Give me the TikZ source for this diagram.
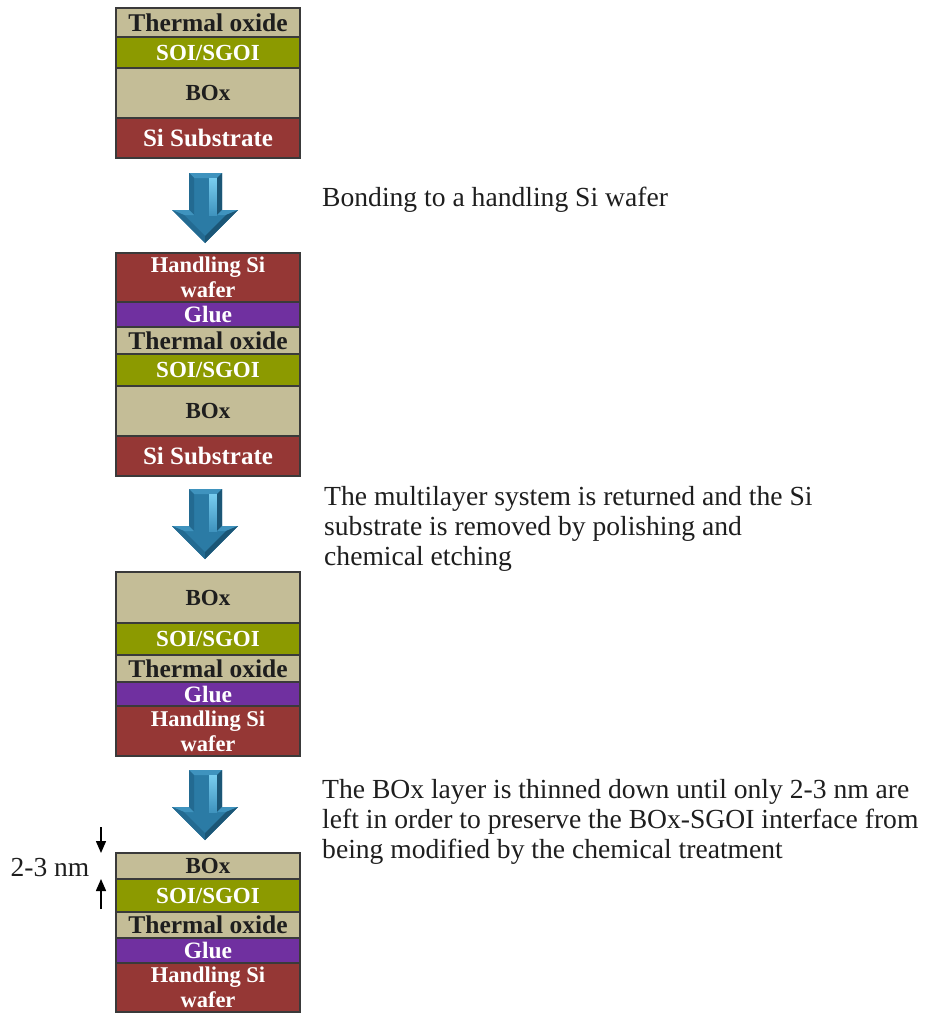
\documentclass[tikz,border=0pt]{standalone}
\usepackage{fontspec}
\setmainfont{Liberation Serif}
\usetikzlibrary{arrows.meta}

\definecolor{tanlayer}{HTML}{C4BD97}
\definecolor{olivelayer}{HTML}{8C9A00}
\definecolor{redlayer}{HTML}{953735}
\definecolor{purplelayer}{HTML}{7030A0}
\definecolor{edgegray}{HTML}{3A3A3A}
\definecolor{inkdark}{HTML}{1E1E1E}
\definecolor{arrowmain}{HTML}{2B7BA5}
\definecolor{arrowdark}{HTML}{1B5676}
\definecolor{arrowmid}{HTML}{236A91}
\definecolor{arrowlight}{HTML}{3F93BE}
\definecolor{arrowhigh}{HTML}{78CDEF}

\newcommand\fTO{\fontsize{25.5}{26}\selectfont}
\newcommand\fSOI{\fontsize{23}{24}\selectfont}
\newcommand\fBOX{\fontsize{23}{24}\selectfont}
\newcommand\fSUB{\fontsize{25}{26}\selectfont}
\newcommand\fHS{\fontsize{22.5}{25}\selectfont}
\newcommand\fGL{\fontsize{23.5}{24}\selectfont}

\tikzset{
  layerbox/.style={draw=edgegray, line width=1.5pt},
  tanfill/.style={layerbox, fill=tanlayer},
  olivefill/.style={layerbox, fill=olivelayer},
  redfill/.style={layerbox, fill=redlayer},
  purplefill/.style={layerbox, fill=purplelayer},
  darklabel/.style={inner sep=0pt, align=center, text=inkdark, font=\bfseries#1},
  lightlabel/.style={inner sep=0pt, align=center, text=white, font=\bfseries#1},
  steptext/.style={anchor=base west, inner sep=0pt, text=inkdark,
    font=\fontsize{27.6}{30}\selectfont},
  dimarrow/.style={line width=1.5pt, -{Triangle[length=12pt, width=10pt]}},
}

% one layer of a stack: name, top y, bottom y, box style, label style, label
\newcommand\stacklayer[6]{%
  \path[#4] (116,#2) rectangle (300,#3);
  \node[#5] (#1) at (208,{(#2+#3)/2}) {#6};}

% bevelled process arrow whose top edge is at y = #2
\newcommand\processarrow[2]{%
  \coordinate (#1) at (205,#2);
  \fill[arrowmain] (189,#2) -- (222,#2) -- (222,#2+37) -- (238,#2+37)
      -- (205,#2+70) -- (172,#2+37) -- (189,#2+37) -- cycle;
  \fill[arrowlight] (189,#2) -- (222,#2) -- (217,#2+5) -- (194,#2+5) -- cycle;
  \fill[arrowmid] (189,#2) -- (194,#2+5) -- (194,#2+42) -- (189,#2+37) -- cycle;
  \shade[top color=arrowhigh, bottom color=arrowlight]
      (209,#2+5) rectangle (217,#2+42);
  \fill[arrowdark] (217,#2+5) -- (222,#2) -- (222,#2+37) -- (217,#2+42) -- cycle;
  \fill[arrowlight] (172,#2+37) -- (189,#2+37) -- (194,#2+42) -- (184,#2+42) -- cycle;
  \fill[arrowlight] (222,#2+37) -- (238,#2+37) -- (226,#2+42) -- (217,#2+42) -- cycle;
  \fill[arrowmid] (172,#2+37) -- (184,#2+42) -- (205,#2+63) -- (205,#2+70) -- cycle;
  \fill[arrowdark] (238,#2+37) -- (226,#2+42) -- (205,#2+63) -- (205,#2+70) -- cycle;}

\begin{document}
\begin{tikzpicture}[x=1pt, y=-1pt]
  \useasboundingbox (0,0) rectangle (925,1014);

  % initial SOI/SGOI wafer
  \stacklayer{aTO}{8}{37}{tanfill}{darklabel=\fTO}{Thermal oxide}
  \stacklayer{aSOI}{37}{68}{olivefill}{lightlabel=\fSOI}{SOI/SGOI}
  \stacklayer{aBOX}{68}{118}{tanfill}{darklabel=\fBOX}{BOx}
  \stacklayer{aSUB}{118}{158}{redfill}{lightlabel=\fSUB}{Si Substrate}

  \processarrow{arrowA}{173}
  \node[steptext] (stepA) at (322,206) {Bonding to a handling Si wafer};

  % bonded stack
  \stacklayer{bHS}{253}{302}{redfill}{lightlabel=\fHS}{Handling Si\\wafer}
  \stacklayer{bGL}{302}{327}{purplefill}{lightlabel=\fGL}{Glue}
  \stacklayer{bTO}{327}{354}{tanfill}{darklabel=\fTO}{Thermal oxide}
  \stacklayer{bSOI}{354}{386}{olivefill}{lightlabel=\fSOI}{SOI/SGOI}
  \stacklayer{bBOX}{386}{436}{tanfill}{darklabel=\fBOX}{BOx}
  \stacklayer{bSUB}{436}{476}{redfill}{lightlabel=\fSUB}{Si Substrate}

  \processarrow{arrowB}{489}
  \node[steptext] (stepB1) at (324,505) {The multilayer system is returned and the Si};
  \node[steptext] (stepB2) at (324,535) {substrate is removed by polishing and};
  \node[steptext] (stepB3) at (324,565) {chemical etching};

  % flipped stack, substrate removed
  \stacklayer{cBOX}{572}{623}{tanfill}{darklabel=\fBOX}{BOx}
  \stacklayer{cSOI}{623}{655}{olivefill}{lightlabel=\fSOI}{SOI/SGOI}
  \stacklayer{cTO}{655}{682}{tanfill}{darklabel=\fTO}{Thermal oxide}
  \stacklayer{cGL}{682}{706}{purplefill}{lightlabel=\fGL}{Glue}
  \stacklayer{cHS}{706}{756}{redfill}{lightlabel=\fHS}{Handling Si\\wafer}

  \processarrow{arrowC}{770}
  \node[steptext] (stepC1) at (322,798) {The BOx layer is thinned down until only 2-3 nm are};
  \node[steptext] (stepC2) at (322,828) {left in order to preserve the BOx-SGOI interface from};
  \node[steptext] (stepC3) at (322,858) {being modified by the chemical treatment};

  % final stack with thinned BOx
  \stacklayer{dBOX}{853}{879}{tanfill}{darklabel=\fBOX}{BOx}
  \stacklayer{dSOI}{879}{912}{olivefill}{lightlabel=\fSOI}{SOI/SGOI}
  \stacklayer{dTO}{912}{938}{tanfill}{darklabel=\fTO}{Thermal oxide}
  \stacklayer{dGL}{938}{963}{purplefill}{lightlabel=\fGL}{Glue}
  \stacklayer{dHS}{963}{1012}{redfill}{lightlabel=\fHS}{Handling Si\\wafer}

  % thickness marker of the remaining BOx
  \coordinate (dimTopStart) at (101,827);
  \coordinate (dimTopEnd) at (101,853);
  \coordinate (dimBotStart) at (101,909);
  \coordinate (dimBotEnd) at (101,879);
  \draw[dimarrow] (dimTopStart) -- (dimTopEnd);
  \draw[dimarrow] (dimBotStart) -- (dimBotEnd);
  \node[anchor=base, inner sep=0pt, text=inkdark,
        font=\fontsize{27.5}{29}\selectfont] (dimLabel) at (50,876) {2-3 nm};
\end{tikzpicture}
\end{document}
